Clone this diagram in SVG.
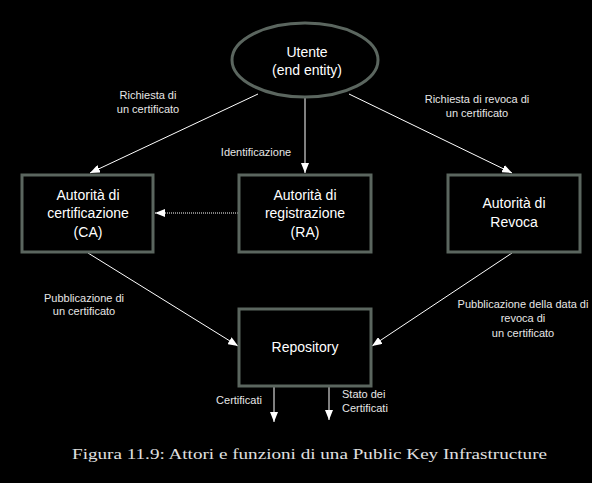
<svg xmlns="http://www.w3.org/2000/svg" width="592" height="483" viewBox="0 0 592 483">
<style>
.node{fill:#000;stroke:#5b665f;stroke-width:3}
.nt{font-family:"Liberation Sans",Arial,sans-serif;font-size:14px;fill:#fff;text-anchor:middle}
.lb{font-family:"Liberation Sans",Arial,sans-serif;font-size:11px;fill:#e6e6e6;text-anchor:middle}
.ls{text-anchor:start}
.ln{stroke:#fff;stroke-width:1;fill:none}
.cap{font-family:"Liberation Serif","Times New Roman",serif;font-size:14.5px;fill:#e0e0e0}
</style>
<defs>
<marker id="ah" viewBox="0 0 10 8" refX="10" refY="4" markerWidth="10" markerHeight="8" markerUnits="userSpaceOnUse" orient="auto">
<path d="M0,0 L10,4 L0,8 Z" fill="#fff"/>
</marker>
</defs>
<rect width="592" height="483" fill="#000"/>
<g id="connectors">
<line class="ln" x1="258" y1="94" x2="90" y2="173" marker-end="url(#ah)"/>
<line class="ln" x1="305" y1="98" x2="305" y2="173" marker-end="url(#ah)"/>
<line class="ln" x1="349" y1="94" x2="512" y2="173" marker-end="url(#ah)"/>
<line class="ln" x1="238" y1="213" x2="155" y2="213" stroke-dasharray="1,1" marker-end="url(#ah)"/>
<line class="ln" x1="88" y1="253" x2="238" y2="346" marker-end="url(#ah)"/>
<line class="ln" x1="512" y1="253" x2="372" y2="346" marker-end="url(#ah)"/>
<line class="ln" x1="274" y1="387" x2="274" y2="422" marker-end="url(#ah)"/>
<line class="ln" x1="329" y1="387" x2="329" y2="420" marker-end="url(#ah)"/>
<text class="lb" x="148" y="99">Richiesta di</text>
<text class="lb" x="148" y="113">un certificato</text>
<text class="lb" x="256" y="156">Identificazione</text>
<text class="lb" x="477" y="103">Richiesta di revoca di</text>
<text class="lb" x="477" y="117">un certificato</text>
<text class="lb" x="84" y="302">Pubblicazione di</text>
<text class="lb" x="84" y="315">un certificato</text>
<text class="lb" x="523" y="308">Pubblicazione della data di</text>
<text class="lb" x="523" y="322">revoca di</text>
<text class="lb" x="523" y="337">un certificato</text>
<text class="lb" x="239" y="404">Certificati</text>
<text class="lb ls" x="342" y="398">Stato dei</text>
<text class="lb ls" x="342" y="412">Certificati</text>
</g>
<g id="utente">
<ellipse class="node" cx="305" cy="60" rx="73" ry="37"/>
<text class="nt" x="307" y="57">Utente</text>
<text class="nt" x="307" y="75">(end entity)</text>
</g>
<g id="ca">
<rect class="node" x="22" y="175" width="131" height="77"/>
<text class="nt" x="88" y="200">Autorità di</text>
<text class="nt" x="88" y="218">certificazione</text>
<text class="nt" x="88" y="237">(CA)</text>
</g>
<g id="ra">
<rect class="node" x="239" y="175" width="132" height="77"/>
<text class="nt" x="305" y="200">Autorità di</text>
<text class="nt" x="305" y="218">registrazione</text>
<text class="nt" x="305" y="237">(RA)</text>
</g>
<g id="revoca">
<rect class="node" x="448" y="175" width="132" height="77"/>
<text class="nt" x="514" y="208">Autorità di</text>
<text class="nt" x="514" y="227">Revoca</text>
</g>
<g id="repository">
<rect class="node" x="239" y="309" width="132" height="77"/>
<text class="nt" x="305" y="352">Repository</text>
</g>
<text class="cap" x="72" y="459" textLength="475" lengthAdjust="spacingAndGlyphs">Figura 11.9: Attori e funzioni di una Public Key Infrastructure</text>
</svg>
